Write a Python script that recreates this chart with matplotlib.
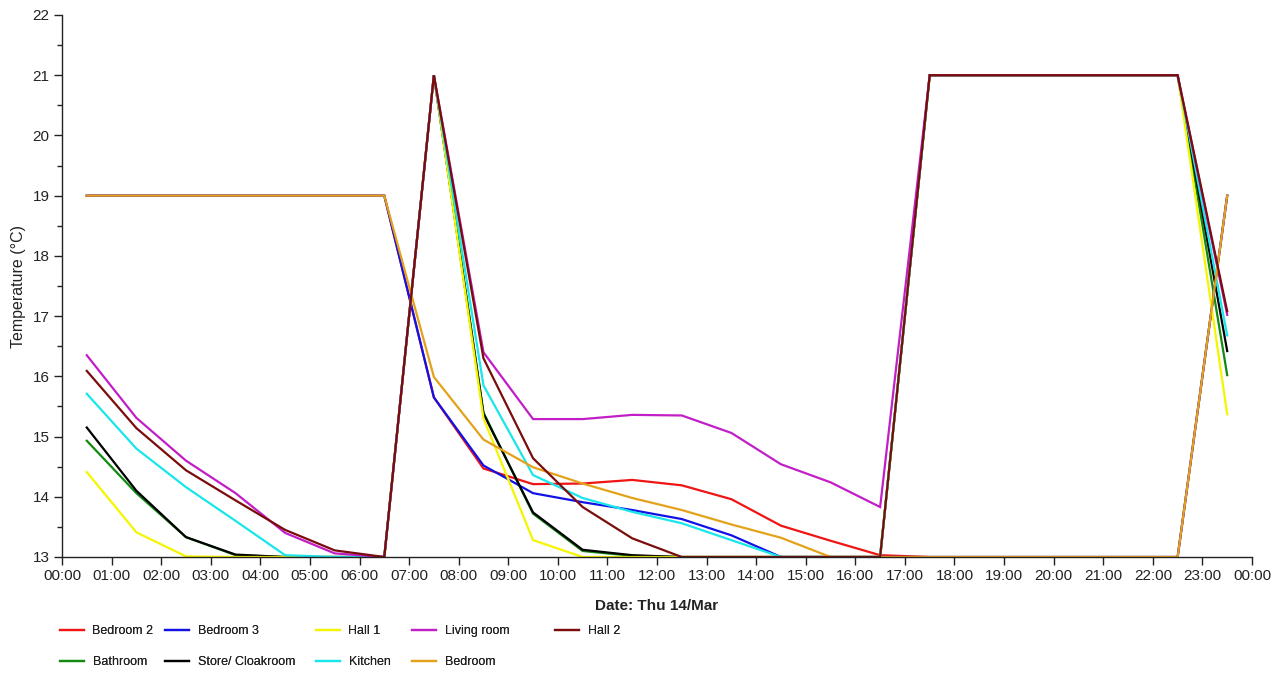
import matplotlib
matplotlib.use("Agg")
import matplotlib.pyplot as plt
from matplotlib.ticker import MultipleLocator, FixedLocator

plt.rcParams['font.family'] = ['Liberation Sans', 'DejaVu Sans']

# Half-hourly readings (00:30 ... 23:30) in degrees C
hours = [h + 0.5 for h in range(24)]

bedroom_2 = [19.0, 19.0, 19.0, 19.0, 19.0, 19.0, 19.0, 15.65, 14.47, 14.21,
             14.22, 14.28, 14.19, 13.96, 13.52, 13.27, 13.03, 13.0, 13.0, 13.0,
             13.0, 13.0, 13.0, 19.0]
bathroom = [14.93, 14.06, 13.33, 13.03, 13.0, 13.0, 13.0, 21.0, 15.4, 13.72,
            13.1, 13.02, 13.0, 13.0, 13.0, 13.0, 13.0, 21.0, 21.0, 21.0,
            21.0, 21.0, 21.0, 16.02]
bedroom_3 = [19.0, 19.0, 19.0, 19.0, 19.0, 19.0, 19.0, 15.65, 14.52, 14.06,
             13.91, 13.78, 13.63, 13.36, 13.0, 13.0, 13.0, 13.0, 13.0, 13.0,
             13.0, 13.0, 13.0, 19.0]
store_cloakroom = [15.15, 14.1, 13.33, 13.04, 13.0, 13.0, 13.0, 21.0, 15.38, 13.74,
                   13.12, 13.03, 13.0, 13.0, 13.0, 13.0, 13.0, 21.0, 21.0, 21.0,
                   21.0, 21.0, 21.0, 16.42]
hall_1 = [14.41, 13.41, 13.01, 13.0, 13.0, 13.0, 13.0, 21.0, 15.3, 13.28,
          13.0, 13.0, 13.0, 13.0, 13.0, 13.0, 13.0, 21.0, 21.0, 21.0,
          21.0, 21.0, 21.0, 15.37]
kitchen = [15.71, 14.8, 14.16, 13.6, 13.03, 13.0, 13.0, 21.0, 15.85, 14.36,
           13.98, 13.75, 13.56, 13.28, 13.0, 13.0, 13.0, 21.0, 21.0, 21.0,
           21.0, 21.0, 21.0, 16.68]
living_room = [16.35, 15.31, 14.6, 14.06, 13.4, 13.06, 13.0, 21.0, 16.4, 15.29,
               15.29, 15.36, 15.35, 15.06, 14.54, 14.24, 13.83, 21.0, 21.0, 21.0,
               21.0, 21.0, 21.0, 17.02]
bedroom = [19.0, 19.0, 19.0, 19.0, 19.0, 19.0, 19.0, 15.99, 14.95, 14.49,
           14.22, 13.98, 13.78, 13.54, 13.32, 13.0, 13.0, 13.0, 13.0, 13.0,
           13.0, 13.0, 13.0, 19.0]
hall_2 = [16.09, 15.14, 14.44, 13.94, 13.45, 13.11, 13.0, 21.0, 16.3, 14.64,
          13.83, 13.31, 13.0, 13.0, 13.0, 13.0, 13.0, 21.0, 21.0, 21.0,
          21.0, 21.0, 21.0, 17.08]

series = [
    ("Bedroom 2", bedroom_2, "#f01414"),
    ("Bathroom", bathroom, "#128a12"),
    ("Bedroom 3", bedroom_3, "#1212e6"),
    ("Store/ Cloakroom", store_cloakroom, "#000000"),
    ("Hall 1", hall_1, "#f5f500"),
    ("Kitchen", kitchen, "#19e6ea"),
    ("Living room", living_room, "#c21ec8"),
    ("Bedroom", bedroom, "#e3a21a"),
    ("Hall 2", hall_2, "#7a0c0c"),
]

tick_hours = list(range(25))
tick_labels = [f"{h % 24:02d}:00" for h in tick_hours]

W, H = 1279, 675
fig = plt.figure(figsize=(W / 100, H / 100), dpi=100)
ax = fig.add_axes([62 / W, 1 - 557 / H, 1190 / W, 542 / H])

handles = []
for name, values, color in series:
    line, = ax.plot(hours, values, color=color, lw=1.6, label=name,
                    solid_joinstyle='miter')
    handles.append(line)

ax.set_xlim(0, 24)
ax.set_ylim(13, 22)
ax.xaxis.set_major_locator(FixedLocator(tick_hours))
ax.set_xticklabels(tick_labels)
ax.yaxis.set_major_locator(MultipleLocator(1))
ax.yaxis.set_minor_locator(MultipleLocator(0.5))

for side in ("top", "right"):
    ax.spines[side].set_visible(False)
for side in ("left", "bottom"):
    ax.spines[side].set_color("#222222")
    ax.spines[side].set_linewidth(1.0)

ax.tick_params(axis='both', which='major', length=6, width=1.0,
               color='#222222', labelcolor='#222222', labelsize=11, pad=3)
ax.tick_params(axis='y', which='minor', length=3.5, width=1.0, color='#222222')

ax.set_xlabel("Date: Thu 14/Mar", fontsize=11, fontweight='bold', color='#222222')
ax.xaxis.set_label_coords(0.5, -0.078)
ax.set_ylabel("Temperature (°C)", fontsize=11.5, color='#222222')
ax.yaxis.set_label_coords(-0.03, 0.5)

# Legend laid out as five columns, each placed at its own left edge
column_x = [60, 165, 316, 412, 555]
column_groups = [handles[0:2], handles[2:4], handles[4:6], handles[6:8], handles[8:9]]
for x, group in zip(column_x, column_groups):
    leg = fig.legend(handles=group, loc='upper left',
                     bbox_to_anchor=(x / W, 1 - 625 / H),
                     ncol=1, frameon=False, fontsize=9, handlelength=1.95,
                     handletextpad=0.65, labelspacing=1.55,
                     borderpad=0, borderaxespad=0, labelcolor='#222222')
    fig.add_artist(leg)

fig.savefig("out.png", dpi=100, facecolor='white')
